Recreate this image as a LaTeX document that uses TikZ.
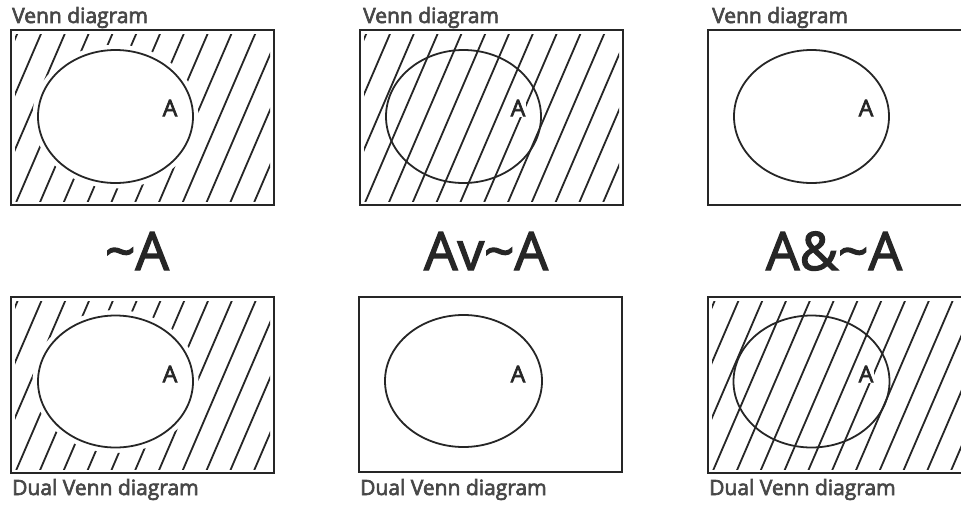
\documentclass[tikz,border=0pt]{standalone}
\usepackage{fontspec}
\setmainfont{Open Sans}
\newfontfamily\medfont{Open Sans}[FakeBold=3]
\newfontfamily\bigfont{Open Sans}[FakeBold=2.5]
\definecolor{ink}{HTML}{262626}
\newcommand{\hatchlines}[4]{%
  \foreach \i in {-6,...,11} {%
    \draw[hatchline] ({#1+4+23.8*\i-4.3},{#4+10}) -- ({#1+4+23.8*\i+0.43*(#4-#2)+4.3},{#2-10});
  }}
\begin{document}
\begin{tikzpicture}[x=1pt,y=-1pt,
  frame/.style={draw=ink, line width=2pt},
  setA/.style={draw=ink, line width=1.8pt},
  hatchline/.style={draw=ink, line width=1.8pt},
  title/.style={anchor=base west, inner sep=0pt, font=\medfont\fontsize{21}{24}\selectfont, text=ink!85},
  formula/.style={anchor=base, inner sep=0pt, font=\bigfont\fontsize{53}{60}\selectfont, text=ink},
  alabel/.style={font=\medfont\fontsize{23}{25}\selectfont, text=ink, inner sep=1pt}]
\clip (0,0) rectangle (961,506);
\fill[white] (0,0) rectangle (961,506);

% ---------- top row ----------
% panel 1: ~A (outside hatched)
\begin{scope}[even odd rule]
  \clip (15,34) rectangle (270,201);
  \clip (0,0) rectangle (961,506) (115.5,116.5) ellipse [x radius=83pt, y radius=72pt];
  \hatchlines{11}{30}{274}{205}
\end{scope}
\draw[frame] (11,30) rectangle (274,205);
\draw[setA] (115.5,116.5) ellipse [x radius=77.5pt, y radius=66.5pt];
\node[alabel] (a1) at (170,108) {A};
\node[title] (t1) at (12,23) {Venn diagram};

% panel 2: Av~A (all hatched)
\begin{scope}
  \clip (364,34) rectangle (619,201);
  \hatchlines{360}{30}{623}{205}
\end{scope}
\draw[frame] (360,30) rectangle (623,205);
\draw[setA] (463.5,116.5) ellipse [x radius=77.5pt, y radius=66.5pt];
\node[alabel, fill=white] (a2) at (518,108) {A};
\node[title] (t2) at (363,23) {Venn diagram};

% panel 3: A&~A (none hatched)
\draw[frame] (708,30) rectangle (975,205);
\draw[setA] (811.5,116.5) ellipse [x radius=77.5pt, y radius=66.5pt];
\node[alabel] (a3) at (866,108) {A};
\node[title] (t3) at (712,23) {Venn diagram};

% ---------- formulas ----------
\node[formula] (f1) at (137,270) {\textasciitilde A};
\node[formula] (f2) at (486,270) {Av\textasciitilde A};
\node[formula] (f3) at (834,270) {A\&\textasciitilde A};

% ---------- bottom row ----------
% panel 4: dual of ~A (outside hatched)
\begin{scope}[even odd rule]
  \clip (15,301) rectangle (270,469);
  \clip (0,0) rectangle (961,506) (115.5,381.5) ellipse [x radius=83pt, y radius=71.5pt];
  \hatchlines{11}{297}{274}{473}
\end{scope}
\draw[frame] (11,297) rectangle (274,473);
\draw[setA] (115.5,381.5) ellipse [x radius=77.5pt, y radius=66pt];
\node[alabel] (a4) at (170,374) {A};
\node[title] (t4) at (12,495) {Dual Venn diagram};

% panel 5: dual of Av~A (none hatched)
\draw[frame] (359,297) rectangle (622,472);
\draw[setA] (463.5,381) ellipse [x radius=78.5pt, y radius=66pt];
\node[alabel] (a5) at (518,374) {A};
\node[title] (t5) at (360,495) {Dual Venn diagram};

% panel 6: dual of A&~A (all hatched)
\begin{scope}
  \clip (712,301) rectangle (971,469);
  \hatchlines{708}{297}{975}{473}
\end{scope}
\draw[frame] (708,297) rectangle (975,473);
\draw[setA] (811.5,381.5) ellipse [x radius=78pt, y radius=66pt];
\node[alabel, fill=white] (a6) at (866,374) {A};
\node[title] (t6) at (709,495) {Dual Venn diagram};
\end{tikzpicture}
\end{document}
